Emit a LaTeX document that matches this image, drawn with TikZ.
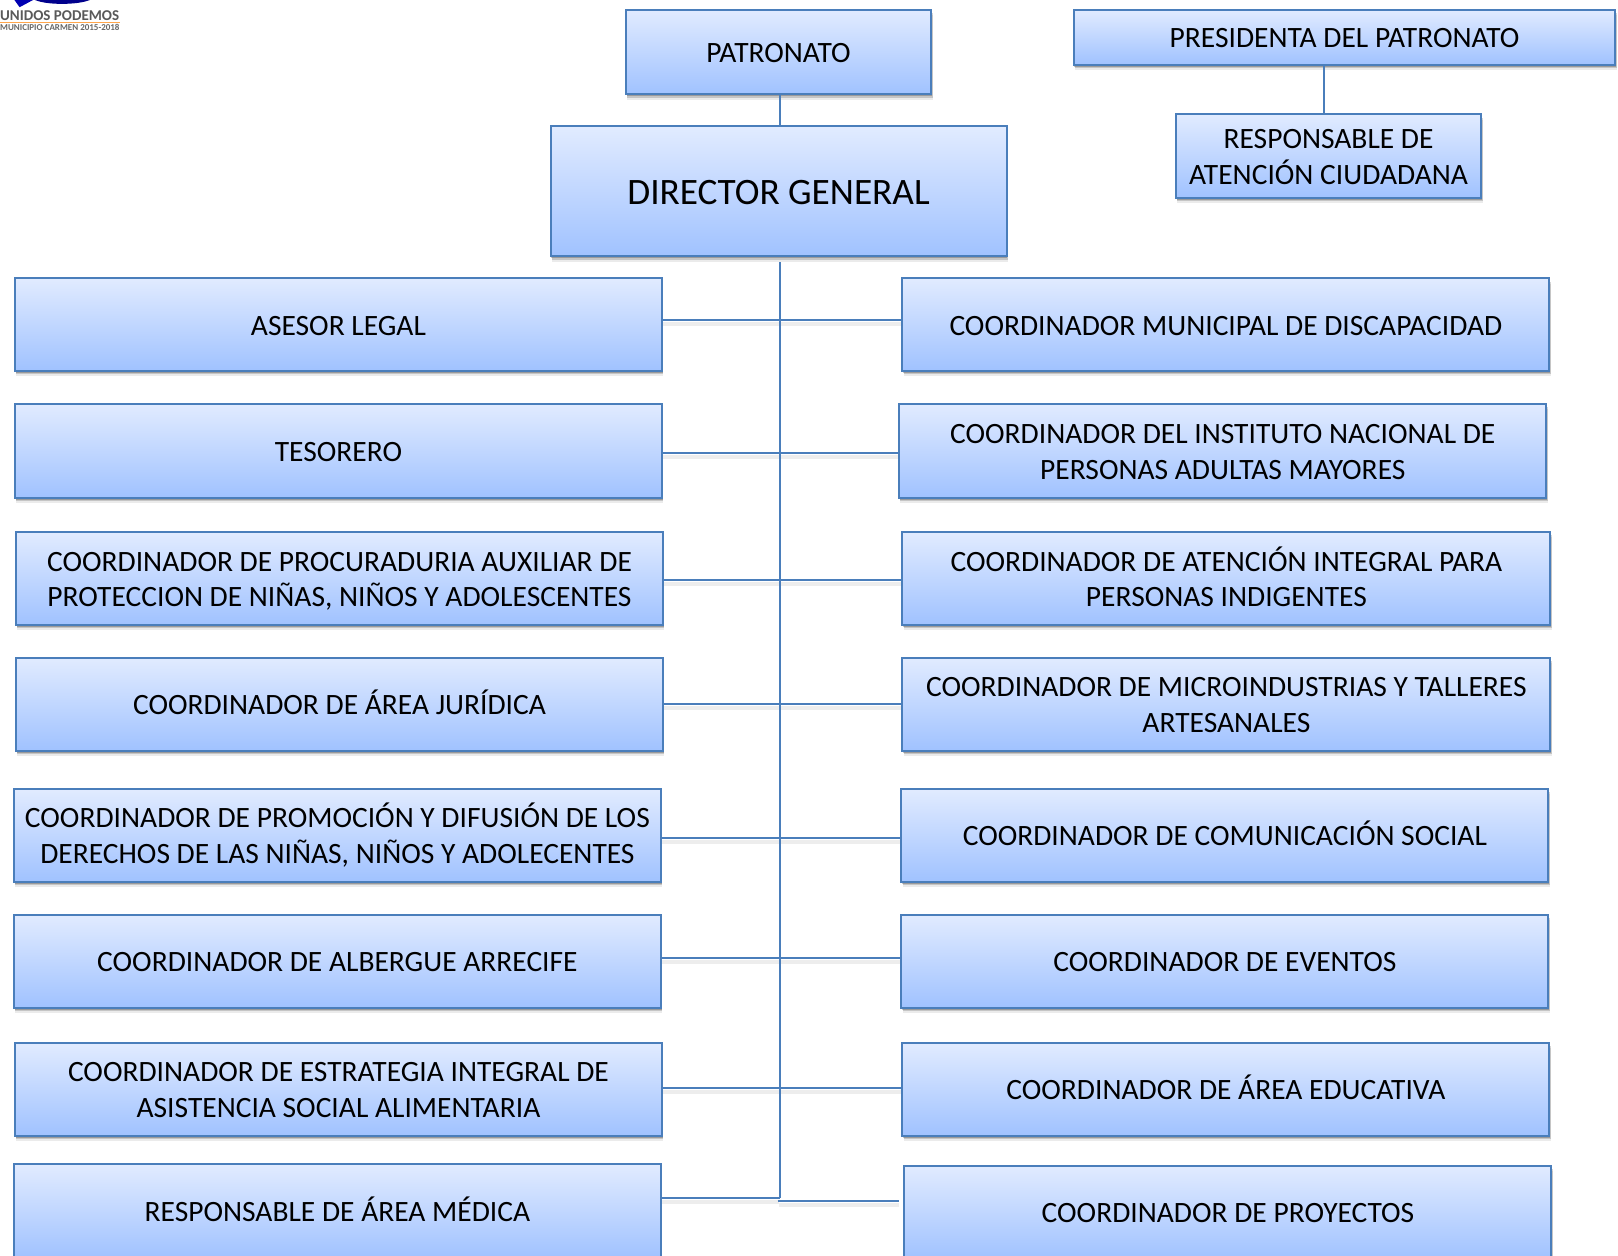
\documentclass[tikz,border=0pt]{standalone}
\usepackage{fontspec}
\setmainfont{Carlito}
\usetikzlibrary{shadows}
\definecolor{edgeblue}{HTML}{4A7EBB}
\definecolor{topblue}{HTML}{E1EBFF}
\definecolor{botblue}{HTML}{A0C2FF}
\tikzset{
  softshadow/.style={
    general shadow={fill=black,opacity=.08,shadow xshift=1.2pt,shadow yshift=-5.5pt},
    general shadow={fill=black,opacity=.16,shadow xshift=1.2pt,shadow yshift=-3.5pt},
    general shadow={fill=black,opacity=.22,shadow xshift=.8pt,shadow yshift=-2pt}},
  box/.style={rectangle,draw=edgeblue,line width=2pt,top color=topblue,bottom color=botblue,
    softshadow,align=center,inner sep=0pt,outer sep=0pt,text=black,
    font=\fontsize{29.5}{35.6}\selectfont},
  big/.style={font=\fontsize{37.3}{44}\selectfont},
  conn/.style={draw=edgeblue,line width=2.2pt},
  connshadow/.style={draw=black,opacity=.07,line width=4pt},
}
% name, x1, y1, x2, y2, text, (extra style)
\newcommand{\bx}[7][]{%
  \node[box,#1,minimum width={(#4-#2)*1.03189pt-1pt},minimum height={(#5-#3)*1.03189pt-1pt}]
    (#6) at ({(#2+#4)/2},{(#3+#5)/2}) {\rule{0pt}{.9em}#7\rule[-.19em]{0pt}{.19em}};}
\begin{document}
\begin{tikzpicture}[x=1.03189pt,y=-1.03189pt]
\useasboundingbox (0,0) rectangle (1568,1217);
\clip (0,0) rectangle (1568,1217);
% logo
\fill[blue!55!black] (34,0) .. controls (45,5) and (75,5) .. (87,0) -- cycle;
\fill[blue!70!black] (14,0) -- (32,0) -- (19,7) -- cycle;
\node[anchor=west,inner sep=0pt,text=black!65,font=\fontsize{15}{15}\selectfont\bfseries] (logoa) at (0,15.5) {UNIDOS PODEMOS};
\node[anchor=west,inner sep=0pt,text=black!60,font=\fontsize{9}{9}\selectfont\bfseries] (logob) at (0,26.5) {MUNICIPIO CARMEN 2015-2018};
\draw[orange!70,line width=.8pt] (0,21.5) -- (logob.north east |- 0,21.5);
% anchors for connectors
\coordinate (spineTop) at (755.5,254);
\coordinate (spineBot) at (755.5,1161);
% shadows of connectors
\foreach \y/\a/\b in {310/642/874,439/642/871,562/643/874,682/643/874,812/641/873,928/641/873,1054/642/874,1161/641/755,1164/755/871}
  \draw[connshadow] (\a,\y+4) -- (\b,\y+4);
% boxes
\bx{606}{9}{903}{92}{patronato}{PATRONATO}
\bx{1040}{9}{1566}{63}{presidenta}{PRESIDENTA DEL PATRONATO}
\bx{1139}{110}{1436}{192}{responsable}{RESPONSABLE DE\\ATENCIÓN CIUDADANA}
\bx[big]{533}{122}{976}{249}{director}{DIRECTOR GENERAL}
\bx{14}{269}{642}{360}{la}{ASESOR LEGAL}
\bx{14}{391}{642}{483}{lb}{TESORERO}
\bx{15}{515}{643}{606}{lc}{COORDINADOR DE PROCURADURIA AUXILIAR DE\\PROTECCION DE NIÑAS, NIÑOS Y ADOLESCENTES}
\bx{15}{637}{643}{728}{ld}{COORDINADOR DE ÁREA JURÍDICA}
\bx{13}{764}{641}{855}{le}{COORDINADOR DE PROMOCIÓN Y DIFUSIÓN DE LOS\\DERECHOS DE LAS NIÑAS, NIÑOS Y ADOLECENTES}
\bx{13}{886}{641}{977}{lf}{COORDINADOR DE ALBERGUE ARRECIFE}
\bx{14}{1010}{642}{1101}{lg}{COORDINADOR DE ESTRATEGIA INTEGRAL DE\\ASISTENCIA SOCIAL ALIMENTARIA}
\bx{13}{1128}{641}{1220}{lh}{RESPONSABLE DE ÁREA MÉDICA}
\bx{874}{269}{1502}{360}{ra}{COORDINADOR MUNICIPAL DE DISCAPACIDAD}
\bx{871}{391}{1499}{483}{rb}{COORDINADOR DEL INSTITUTO NACIONAL DE\\PERSONAS ADULTAS MAYORES}
\bx{874}{515}{1503}{606}{rc}{COORDINADOR DE ATENCIÓN INTEGRAL PARA\\PERSONAS INDIGENTES}
\bx{874}{637}{1503}{728}{rd}{COORDINADOR DE MICROINDUSTRIAS Y TALLERES\\ARTESANALES}
\bx{873}{764}{1501}{855}{re}{COORDINADOR DE COMUNICACIÓN SOCIAL}
\bx{873}{886}{1501}{977}{rf}{COORDINADOR DE EVENTOS}
\bx{874}{1010}{1502}{1101}{rg}{COORDINADOR DE ÁREA EDUCATIVA}
\bx{876}{1129}{1504}{1221}{rh}{COORDINADOR DE PROYECTOS}
% connectors
\draw[conn] (patronato.south -| spineTop) -- (director.north -| spineTop);
\draw[conn] (spineTop) -- (spineBot);
\draw[conn] (presidenta.south -| 1283,0) -- (responsable.north -| 1283,0);
\foreach \n/\m/\y in {la/ra/310,lb/rb/439,lc/rc/562,ld/rd/682,le/re/812,lf/rf/928,lg/rg/1054}
  \draw[conn] (\n.east |- 0,\y) -- (\m.west |- 0,\y);
\draw[conn] (lh.east |- 0,1161) -- (spineBot);
\coordinate (rhEnd) at (871,1164);
\draw[conn] (753.5,1164) -- (rhEnd);
\end{tikzpicture}
\end{document}
